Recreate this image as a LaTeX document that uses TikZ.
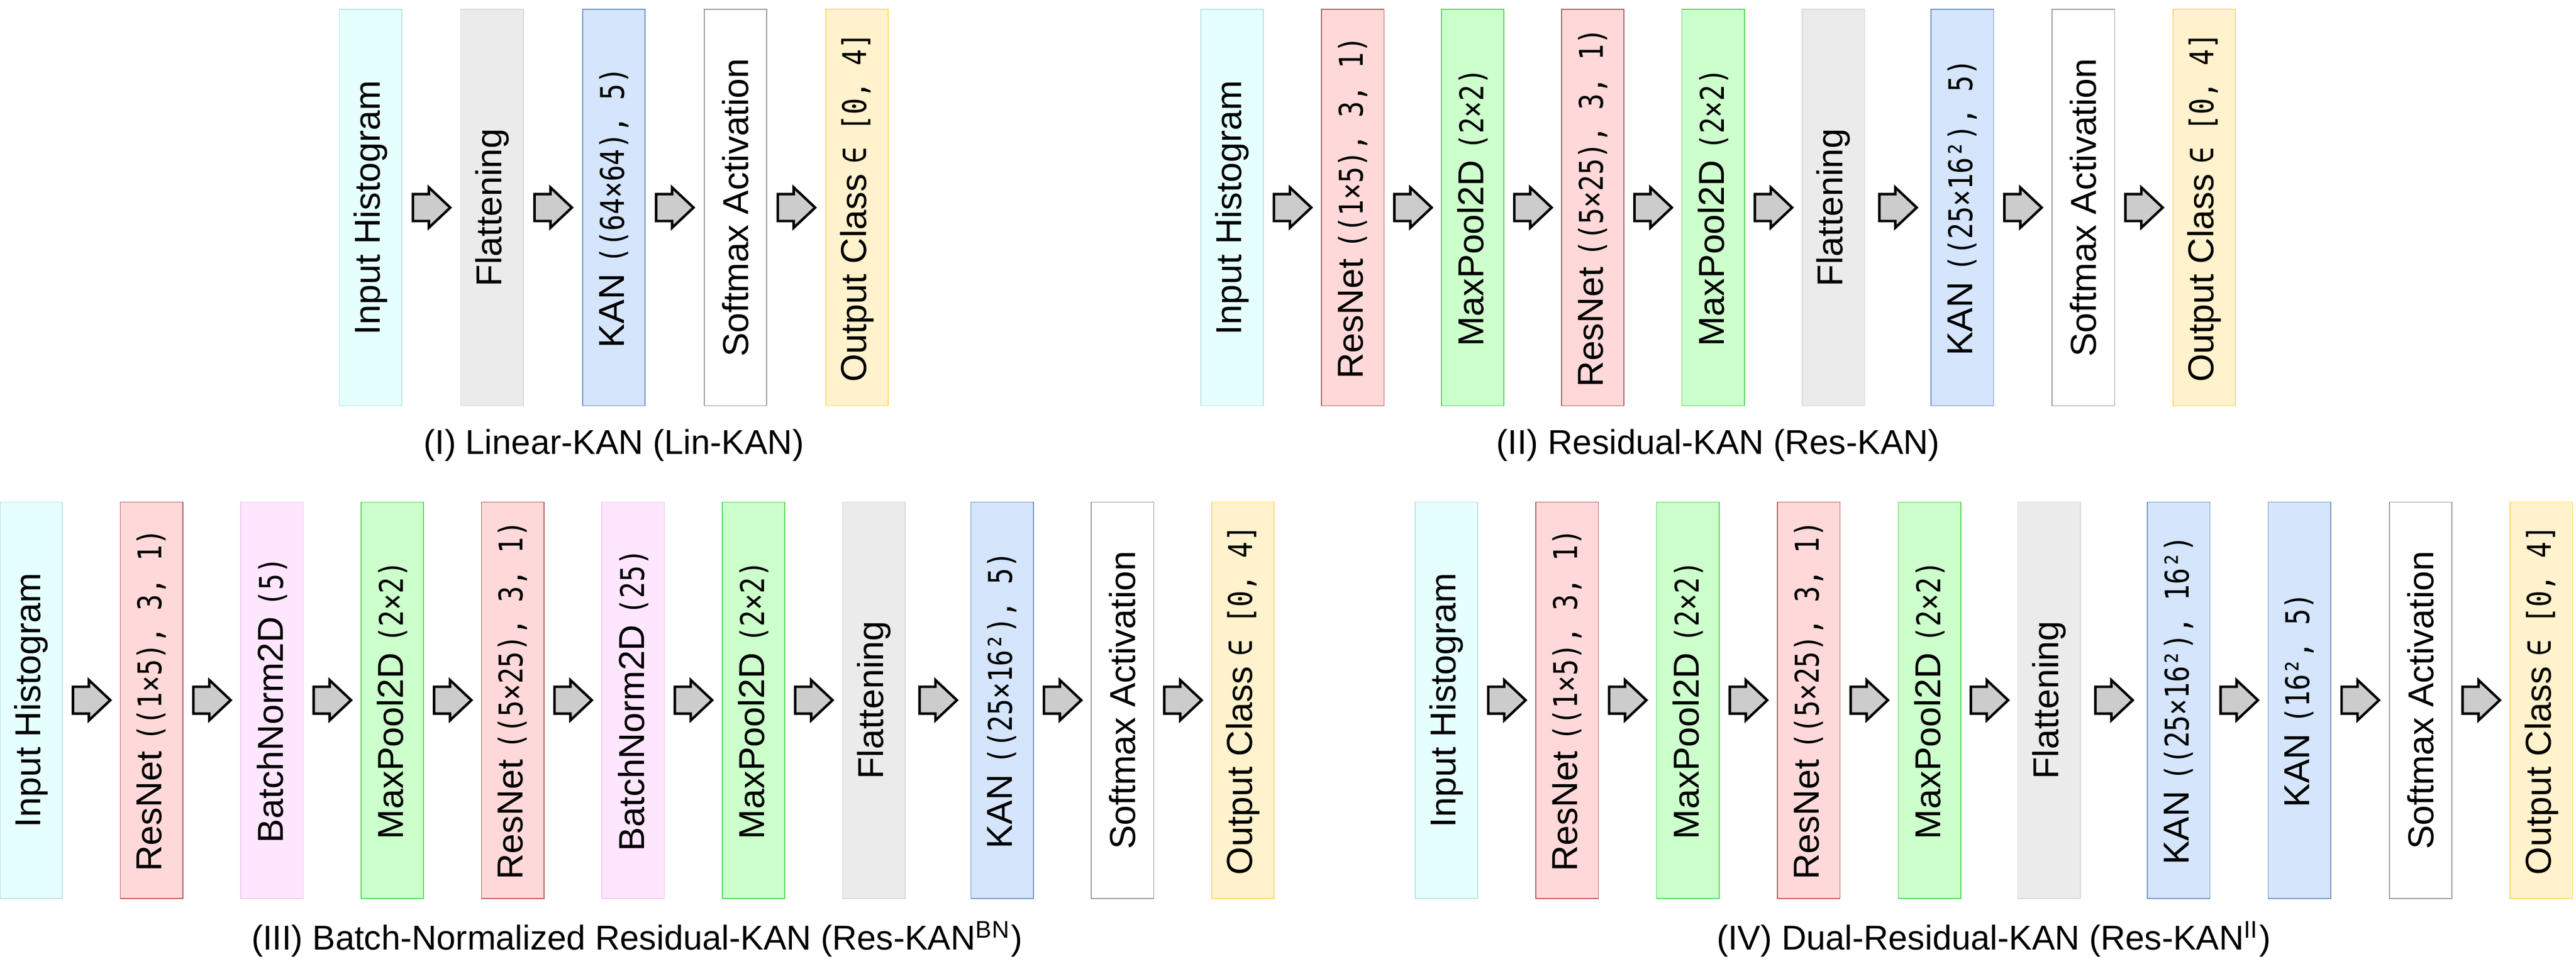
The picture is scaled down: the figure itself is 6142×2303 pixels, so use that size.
\documentclass[tikz,border=0pt]{standalone}
\usepackage{fontspec}
\setmainfont{Liberation Sans}
\newfontfamily\monofam[FakeStretch=0.83]{DejaVu Sans Mono}
\newcommand{\numtxt}[1]{{\monofam\fontsize{7.8}{8}\selectfont #1}}
\usepackage{tikz}
\usetikzlibrary{calc}

\tikzset{
  layer/.style={draw, line width=0.2pt, rotate=90, minimum width=94.5pt, minimum height=14.9pt, inner sep=0pt, font=\fontsize{8.6}{9}\selectfont},
  inbox/.style={layer, fill={rgb, 255:red, 229; green, 255; blue, 255}, draw={rgb, 255:red, 190; green, 222; blue, 232}},
  flatbox/.style={layer, fill={rgb, 255:red, 235; green, 235; blue, 235}, draw={rgb, 255:red, 215; green, 215; blue, 215}},
  resbox/.style={layer, fill={rgb, 255:red, 255; green, 217; blue, 217}, draw={rgb, 255:red, 184; green, 84; blue, 80}},
  normbox/.style={layer, fill={rgb, 255:red, 255; green, 230; blue, 255}, draw={rgb, 255:red, 240; green, 200; blue, 240}},
  poolbox/.style={layer, fill={rgb, 255:red, 204; green, 255; blue, 204}, draw={rgb, 255:red, 80; green, 215; blue, 80}},
  kanbox/.style={layer, fill={rgb, 255:red, 212; green, 229; blue, 252}, draw={rgb, 255:red, 108; green, 142; blue, 191}},
  softbox/.style={layer, fill=white, draw={rgb, 255:red, 150; green, 150; blue, 150}},
  outbox/.style={layer, fill={rgb, 255:red, 255; green, 242; blue, 204}, draw={rgb, 255:red, 255; green, 217; blue, 102}},
  blockarrow/.style={draw=black, fill={rgb, 255:red, 204; green, 204; blue, 204}, line width=0.6pt, line join=miter},
  caption/.style={anchor=base, font=\fontsize{8.2}{9}\selectfont}
}

\begin{document}
\begin{tikzpicture}[x=0.1pt,y=0.1pt,yscale=-1,xscale=1]
\useasboundingbox (0,0) rectangle (6142,2303);
% (I) Lin-KAN
\node[inbox]   (lin1) at (883.5,495) {Input Histogram};
\node[flatbox] (lin2) at (1173.5,495) {Flattening};
\node[kanbox]  (lin3) at (1463.5,495) {KAN \numtxt{((64×64), 5)}};
\node[softbox] (lin4) at (1753.5,495) {Softmax Activation};
\node[outbox]  (lin5) at (2043.5,495) {Output Class \numtxt{∈ [0, 4]}};
\node[caption] (lincap) at (1463.5,1083) {(I) Linear-KAN (Lin-KAN)};
% (II) Res-KAN
\node[inbox]   (res1) at (2937.5,495) {Input Histogram};
\node[resbox]  (res2) at (3225.5,495) {ResNet \numtxt{((1×5), 3, 1)}};
\node[poolbox] (res3) at (3511.5,495) {MaxPool2D \numtxt{(2×2)}};
\node[resbox]  (res4) at (3797.5,495) {ResNet \numtxt{((5×25), 3, 1)}};
\node[poolbox] (res5) at (4084.5,495) {MaxPool2D \numtxt{(2×2)}};
\node[flatbox] (res6) at (4371.5,495) {Flattening};
\node[kanbox]  (res7) at (4678.5,495) {KAN \numtxt{((25×16²), 5)}};
\node[softbox] (res8) at (4967.5,495) {Softmax Activation};
\node[outbox]  (res9) at (5255.5,495) {Output Class \numtxt{∈ [0, 4]}};
\node[caption] (rescap) at (4096.5,1083) {(II) Residual-KAN (Res-KAN)};
% (III) Res-KAN BN
\node[inbox]   (bn1) at (74.5,1669.5) {Input Histogram};
\node[resbox]  (bn2) at (361.5,1669.5) {ResNet \numtxt{((1×5), 3, 1)}};
\node[normbox] (bn3) at (648.5,1669.5) {BatchNorm2D \numtxt{(5)}};
\node[poolbox] (bn4) at (935.5,1669.5) {MaxPool2D \numtxt{(2×2)}};
\node[resbox]  (bn5) at (1222.5,1669.5) {ResNet \numtxt{((5×25), 3, 1)}};
\node[normbox] (bn6) at (1509.5,1669.5) {BatchNorm2D \numtxt{(25)}};
\node[poolbox] (bn7) at (1796.5,1669.5) {MaxPool2D \numtxt{(2×2)}};
\node[flatbox] (bn8) at (2083.5,1669.5) {Flattening};
\node[kanbox]  (bn9) at (2389.5,1669.5) {KAN \numtxt{((25×16²), 5)}};
\node[softbox] (bn10) at (2676.5,1669.5) {Softmax Activation};
\node[outbox]  (bn11) at (2963.5,1669.5) {Output Class \numtxt{∈ [0, 4]}};
\node[caption] (bncap) at (1519,2264) {(III) Batch-Normalized Residual-KAN (Res-KAN\textsuperscript{BN})};
% (IV) Res-KAN II
\node[inbox]   (dual1) at (3448.5,1669.5) {Input Histogram};
\node[resbox]  (dual2) at (3736.5,1669.5) {ResNet \numtxt{((1×5), 3, 1)}};
\node[poolbox] (dual3) at (4024.5,1669.5) {MaxPool2D \numtxt{(2×2)}};
\node[resbox]  (dual4) at (4312.5,1669.5) {ResNet \numtxt{((5×25), 3, 1)}};
\node[poolbox] (dual5) at (4600.5,1669.5) {MaxPool2D \numtxt{(2×2)}};
\node[flatbox] (dual6) at (4885.5,1669.5) {Flattening};
\node[kanbox]  (dual7) at (5194.5,1669.5) {KAN \numtxt{((25×16²), 16²)}};
\node[kanbox]  (dual8) at (5482.5,1669.5) {KAN \numtxt{(16², 5)}};
\node[softbox] (dual9) at (5771.5,1669.5) {Softmax Activation};
\node[outbox]  (dual10) at (6059.5,1669.5) {Output Class \numtxt{∈ [0, 4]}};
\node[caption] (dualcap) at (4754,2264) {(IV) Dual-Residual-KAN (Res-KAN\textsuperscript{II})};
% arrows
\foreach \g/\n in {lin/4,res/8,bn/10,dual/9}
  \foreach \i in {1,...,\n} {
    \pgfmathtruncatemacro\j{\i+1}
    \draw[blockarrow] ($(\g\i)!0.5!(\g\j)$) ++(-44,-32) -- ++(38,0) -- ++(0,-16) -- ++(51,48) -- ++(-51,48) -- ++(0,-16) -- ++(-38,0) -- cycle;
  }
\end{tikzpicture}
\end{document}
